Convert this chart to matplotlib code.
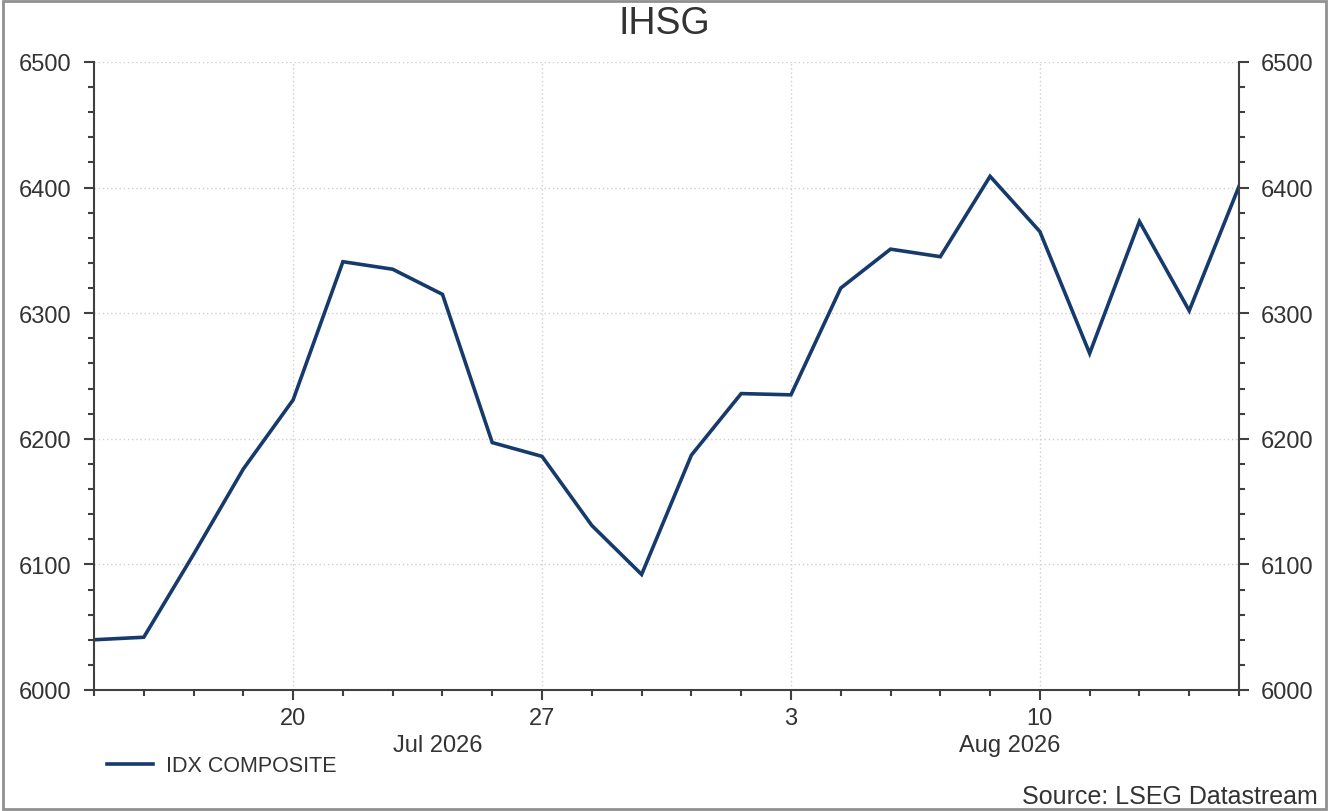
import matplotlib
matplotlib.use("Agg")
import matplotlib.pyplot as plt
from matplotlib.patches import Rectangle
import matplotlib.transforms as mtransforms
import numpy as np

# trading days shown on the chart (business days only)
dates = ["Jul 14", "Jul 15", "Jul 16", "Jul 17", "Jul 20", "Jul 21", "Jul 22", "Jul 23",
         "Jul 24", "Jul 27", "Jul 28", "Jul 29", "Jul 30", "Jul 31", "Aug 3", "Aug 4",
         "Aug 5", "Aug 6", "Aug 7", "Aug 10", "Aug 11", "Aug 12", "Aug 13", "Aug 14"]
ihsg = [6040, 6042, 6108, 6176, 6231, 6341, 6335, 6315,
        6197, 6186, 6131, 6092, 6187, 6236, 6235, 6320,
        6351, 6345, 6409, 6365, 6268, 6373, 6302, 6401]

tick_days = ["Jul 20", "Jul 27", "Aug 3", "Aug 10"]
tick_labels = ["20", "27", "3", "10"]
month_labels = ["Jul 2026", "Aug 2026"]
month_pos = [6.9, 18.4]

x = np.arange(len(dates))
navy = "#173a6c"
grey = "#404040"
txt = "#333333"

plt.rcParams['font.family'] = ['Liberation Sans', 'DejaVu Sans']

fig = plt.figure(figsize=(13.29, 8.12), dpi=100)
ax = fig.add_axes([94/1329, 1-691/812, (1239-94)/1329, (691-63)/812])

ax.plot(x, ihsg, color=navy, lw=2.6, label="IDX COMPOSITE", solid_joinstyle="miter")

ax.set_xlim(0, len(dates)-1)
ax.set_ylim(6000, 6500)
ax.set_yticks(np.arange(6000, 6501, 100))
ax.set_yticks(np.arange(6000, 6501, 20), minor=True)
maj = [dates.index(d) for d in tick_days]
ax.set_xticks(maj)
ax.set_xticklabels(tick_labels)
ax.set_xticks(x, minor=True)

ax.grid(True, which="major", color="#d0d0d0", linestyle=(0, (1, 2)), lw=1)
ax.tick_params(which="both", direction="out", color=grey, width=1.5,
               labelsize=17, labelcolor=txt, right=True, labelright=True)
ax.tick_params(which="major", length=7, pad=5)
ax.tick_params(which="minor", length=4)
ax.tick_params(axis="y", which="major", pad=9)

for s in ["left", "bottom", "right"]:
    ax.spines[s].set_color(grey)
    ax.spines[s].set_linewidth(1.5)
ax.spines["top"].set_visible(False)

trans = mtransforms.blended_transform_factory(ax.transData, fig.transFigure)
for lab, pos in zip(month_labels, month_pos):
    ax.text(pos, 1-746/812, lab, transform=trans, ha="center", va="center",
            fontsize=17, color=txt)

fig.text(0.5, 1-24/812, "IHSG", ha="center", va="center", fontsize=27, color=txt)
fig.text(1318/1329, 1-797/812, "Source: LSEG Datastream", ha="right", va="center",
         fontsize=18, color=txt)

leg = fig.legend(loc="center left", bbox_to_anchor=(88/1329, 1-767/812), frameon=False,
                 fontsize=15.5, handlelength=2.1, handletextpad=0.6)
for t in leg.get_texts():
    t.set_color(txt)

fig.patches.append(Rectangle((0.002, 0.002), 0.996, 0.996, transform=fig.transFigure,
                             fill=False, edgecolor="#909090", lw=2))

fig.savefig("out.png", dpi=100)
